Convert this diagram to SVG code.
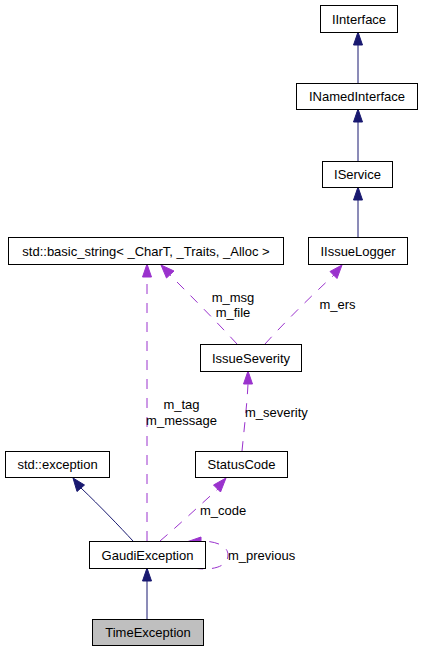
<svg xmlns="http://www.w3.org/2000/svg" width="422" height="650" viewBox="0 0 422 650">
<style>
.box{fill:#ffffff;stroke:#000000;stroke-width:1}
.hl{fill:#bfbfbf}
text{font-family:"Liberation Sans",Arial,sans-serif;font-size:13px;fill:#000000}
.c{text-anchor:middle}
.inh{fill:none;stroke:#191970;stroke-width:1}
.use{fill:none;stroke:#9a32cd;stroke-width:1;stroke-dasharray:10,9}
.ah{fill:#191970;stroke:#191970}
.ap{fill:#9a32cd;stroke:#9a32cd}
</style>
<rect width="422" height="650" fill="#ffffff"/>
<g id="connectors">
  <!-- INamedInterface -> IInterface -->
  <path class="inh" d="M358,83 L358,45"/>
  <polygon class="ah" points="358,32 353.5,45 362.5,45"/>
  <!-- IService -> INamedInterface -->
  <path class="inh" d="M358,161 L358,122"/>
  <polygon class="ah" points="358,109 353.5,122 362.5,122"/>
  <!-- IIssueLogger -> IService -->
  <path class="inh" d="M358,237 L358,200"/>
  <polygon class="ah" points="358,187 353.5,200 362.5,200"/>
  <!-- GaudiException -> basic_string (m_tag m_message) -->
  <path class="use" d="M147,541 L147,277"/>
  <polygon class="ap" points="147,264 142.5,277 151.5,277"/>
  <!-- IssueSeverity -> basic_string (m_msg m_file) -->
  <path class="use" d="M237,344 C215,320 190,295 170,275"/>
  <polygon class="ap" points="161,265 166.5,278 174,271"/>
  <!-- IssueSeverity -> IIssueLogger (m_ers) -->
  <path class="use" d="M265,344 C285,322 310,297 334,275"/>
  <polygon class="ap" points="342,265 330,271.5 337,278.5"/>
  <!-- StatusCode -> IssueSeverity (m_severity) -->
  <path class="use" d="M242,451 C244,430 247,405 248,384"/>
  <polygon class="ap" points="248,371 243.5,384 252.5,384"/>
  <!-- GaudiException -> std::exception -->
  <path class="inh" d="M133,541 C120,527 100,506 81,488"/>
  <polygon class="ah" points="73,478 77,491.5 84.5,485"/>
  <!-- GaudiException -> StatusCode (m_code) -->
  <path class="use" d="M160,541 C180,524 200,505 218,489"/>
  <polygon class="ap" points="226,478 213.5,485 220.5,492"/>
  <!-- GaudiException self (m_previous) -->
  <path class="use" d="M193,568 C212,571 228,567 228,555 C228,545 214,541 201,541"/>
  <polygon class="ap" points="188,541.5 201,537 201,546"/>
  <!-- TimeException -> GaudiException -->
  <path class="inh" d="M147,619 L147,581"/>
  <polygon class="ah" points="147,568 142.5,581 151.5,581"/>
</g>
<g id="labels">
  <text class="c" x="233" y="301.5">m_msg</text>
  <text class="c" x="233" y="316.5">m_file</text>
  <text class="c" x="337.5" y="309">m_ers</text>
  <text class="c" x="181.5" y="408.5">m_tag</text>
  <text class="c" x="181.5" y="424.5">m_message</text>
  <text x="245" y="417">m_severity</text>
  <text x="200" y="515">m_code</text>
  <text x="228" y="560">m_previous</text>
</g>
<g id="IInterface"><rect class="box" x="320.5" y="5.5" width="77" height="27"/><text class="c" x="359" y="23.5">IInterface</text></g>
<g id="INamedInterface"><rect class="box" x="296.5" y="83.5" width="121" height="26"/><text class="c" x="357" y="101">INamedInterface</text></g>
<g id="IService"><rect class="box" x="322.5" y="161.5" width="70" height="26"/><text class="c" x="357.5" y="179">IService</text></g>
<g id="basic_string"><rect class="box" x="8.5" y="237.5" width="275" height="27"/><text class="c" x="146" y="255.5">std::basic_string&lt; _CharT, _Traits, _Alloc &gt;</text></g>
<g id="IIssueLogger"><rect class="box" x="308.5" y="237.5" width="99" height="27"/><text class="c" x="358" y="255.5">IIssueLogger</text></g>
<g id="IssueSeverity"><rect class="box" x="200.5" y="344.5" width="101" height="27"/><text class="c" x="251" y="362.5">IssueSeverity</text></g>
<g id="std_exception"><rect class="box" x="5.5" y="451.5" width="104" height="26"/><text class="c" x="57.5" y="469">std::exception</text></g>
<g id="StatusCode"><rect class="box" x="195.5" y="451.5" width="92" height="26"/><text class="c" x="241.5" y="469">StatusCode</text></g>
<g id="GaudiException"><rect class="box" x="89.5" y="541.5" width="116" height="27"/><text class="c" x="147.5" y="559.5">GaudiException</text></g>
<g id="TimeException"><rect class="box hl" x="92.5" y="619.5" width="111" height="26"/><text class="c" x="148" y="637">TimeException</text></g>
</svg>
